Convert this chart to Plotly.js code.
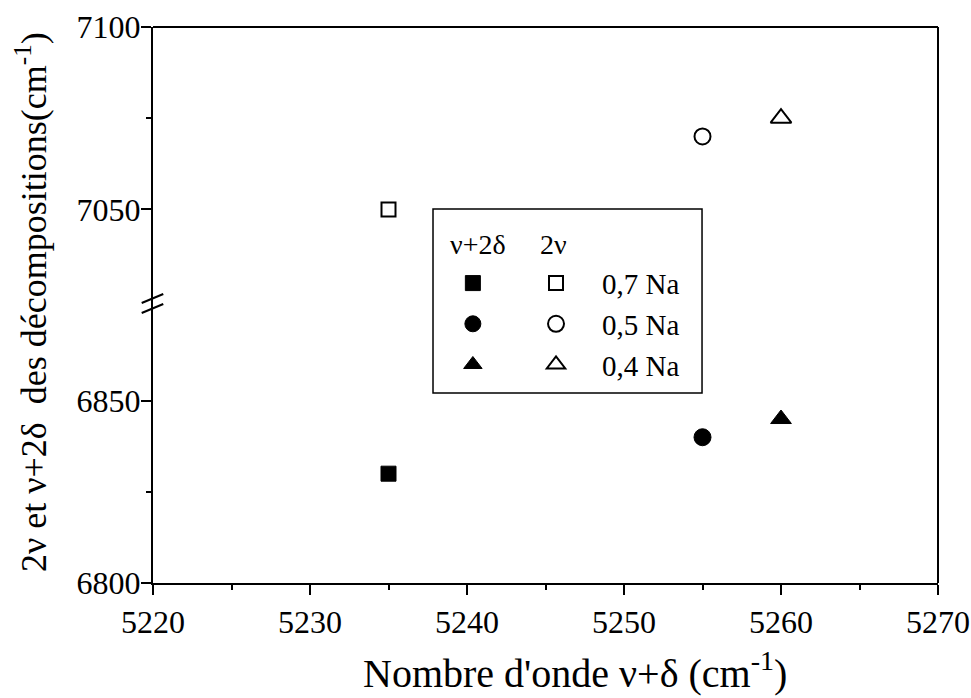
<!DOCTYPE html>
<html>
<head>
<meta charset="utf-8">
<script src="https://cdn.plot.ly/plotly-3.0.1.min.js"></script>
<style>html,body{margin:0;padding:0;background:#fff;}#chart{width:971px;height:698px;}</style>
</head>
<body>
<div id="chart"></div>
<script>
// ---- data ----
var wavenumber = [5235, 5255, 5260];          // ν+δ (cm-1)
var nuPlus2Delta = [6830, 6840, 6845];         // ν+2δ (filled markers)
var twoNu = [7050, 7070, 7075];                // 2ν (open markers)
var compositions = ['0,7 Na', '0,5 Na', '0,4 Na'];
var filledSymbols = ['square', 'circle', 'triangle-up'];
var openSymbols = ['square-open', 'circle-open', 'triangle-up-open'];
var xTicks = [5220, 5230, 5240, 5250, 5260, 5270];
var yLowTicks = [6800, 6850];
var yHighTicks = [7050, 7100];

var FONT = 'Liberation Serif';
var filledSizes = [15, 17, 18];
var openSizes = [14, 16, 18];

var traces = [];
for (var i = 0; i < wavenumber.length; i++) {
  traces.push({
    type: 'scatter', mode: 'markers',
    x: [wavenumber[i]], y: [nuPlus2Delta[i]],
    xaxis: 'x', yaxis: 'y',
    name: ' ', legend: 'legend', legendgroup: 'f' + i,
    marker: {symbol: filledSymbols[i], size: filledSizes[i], color: 'black', line: {color: 'black', width: 1}},
    hoverinfo: 'x+y'
  });
}
for (var j = 0; j < wavenumber.length; j++) {
  traces.push({
    type: 'scatter', mode: 'markers',
    x: [wavenumber[j]], y: [twoNu[j]],
    xaxis: 'x', yaxis: 'y2',
    name: compositions[j], legend: 'legend2', legendgroup: 'o' + j,
    marker: {symbol: openSymbols[j], size: openSizes[j], color: 'black', line: {color: 'black', width: 2}},
    hoverinfo: 'x+y'
  });
}

var split = 0.5027;
function axisBase() {
  return {
    showline: true, linecolor: 'black', linewidth: 2,
    ticks: 'outside', ticklen: 10, tickwidth: 2, tickcolor: 'black',
    showgrid: false, zeroline: false,
    tickfont: {family: FONT, size: 32, color: 'black'}
  };
}

var layout = {
  width: 971, height: 698,
  margin: {l: 153, r: 33, t: 27, b: 115},
  paper_bgcolor: 'white', plot_bgcolor: 'white',
  font: {family: FONT, size: 32, color: 'black'},
  xaxis: Object.assign(axisBase(), {
    range: [5220, 5270], tickmode: 'array', tickvals: xTicks,
    anchor: 'y',
    minor: {dtick: 5, ticks: 'outside', ticklen: 5, tickwidth: 2, tickcolor: 'black', showgrid: false}
  }),
  yaxis: Object.assign(axisBase(), {
    domain: [0, split], range: [6800, 6876.7], anchor: 'x',
    tickmode: 'array', tickvals: yLowTicks, ticklabelstandoff: -6,
    minor: {tickmode: 'array', tickvals: [6825], ticks: 'outside', ticklen: 5, tickwidth: 2, tickcolor: 'black', showgrid: false}
  }),
  yaxis2: Object.assign(axisBase(), {
    domain: [split, 1], range: [7024.2, 7100], anchor: 'x',
    tickmode: 'array', tickvals: yHighTicks, ticklabelstandoff: -6,
    minor: {tickmode: 'array', tickvals: [7075], ticks: 'outside', ticklen: 5, tickwidth: 2, tickcolor: 'black', showgrid: false}
  }),
  showlegend: true,
  legend: {
    x: 0.382, y: 0.585, xanchor: 'left', yanchor: 'top',
    bgcolor: 'rgba(0,0,0,0)', borderwidth: 0, tracegroupgap: 0,
    font: {family: FONT, size: 29, color: 'black'}
  },
  legend2: {
    x: 0.4548, y: 0.585, xanchor: 'left', yanchor: 'top', itemwidth: 82,
    bgcolor: 'rgba(0,0,0,0)', borderwidth: 0, tracegroupgap: 0,
    font: {family: FONT, size: 29, color: 'black'}
  },
  shapes: [
    {type: 'line', xref: 'paper', yref: 'paper', x0: 0, x1: 1, y0: 1, y1: 1, line: {color: 'black', width: 2}},
    {type: 'line', xref: 'paper', yref: 'paper', x0: 1, x1: 1, y0: 0, y1: 1, line: {color: 'black', width: 2}},
    {type: 'line', xref: 'paper', yref: 'paper', x0: -0.0144, x1: 0.0131, y0: 0.5036, y1: 0.5198, line: {color: 'black', width: 2}},
    {type: 'line', xref: 'paper', yref: 'paper', x0: -0.0144, x1: 0.0131, y0: 0.4856, y1: 0.5018, line: {color: 'black', width: 2}},
    {type: 'rect', xref: 'paper', yref: 'paper', x0: 0.3567, x1: 0.6994, y0: 0.3417, y1: 0.6727, line: {color: 'black', width: 1.5}, fillcolor: 'rgba(0,0,0,0)'}
  ],
  annotations: [
    {text: 'ν+2δ', xref: 'paper', yref: 'paper', x: 0.3758, y: 0.6097, xanchor: 'left', yanchor: 'middle', showarrow: false,
     font: {family: FONT, size: 28, color: 'black'}},
    {text: '2ν', xref: 'paper', yref: 'paper', x: 0.4900, y: 0.6097, xanchor: 'left', yanchor: 'middle', showarrow: false,
     font: {family: FONT, size: 28, color: 'black'}},
    {text: 'Nombre d\'onde ν+δ (cm<sup>-1</sup>)', xref: 'paper', yref: 'paper', x: 0.5376, y: -0.158,
     xanchor: 'center', yanchor: 'middle', showarrow: false, font: {family: FONT, size: 40, color: 'black'}},
    {text: '2ν et ν+2δ  des décompositions(cm<sup>-1</sup>)', xref: 'paper', yref: 'paper', x: -0.155, y: 0.506,
     xanchor: 'center', yanchor: 'middle', textangle: -90, showarrow: false, font: {family: FONT, size: 36, color: 'black'}}
  ]
};

Plotly.newPlot('chart', traces, layout, {staticPlot: true, displayModeBar: false});
</script>
</body>
</html>
